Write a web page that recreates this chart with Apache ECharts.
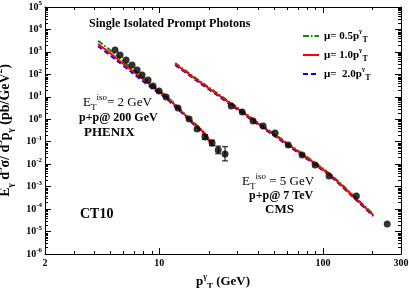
<!DOCTYPE html>
<html><head><meta charset="utf-8">
<script src="https://cdn.jsdelivr.net/npm/echarts@6/dist/echarts.min.js"></script>
<style>html,body{margin:0;padding:0;background:#fff}#c{width:409px;height:288px}</style>
</head><body><div id="c"></div>
<script>
// ---- data ----
const phenixPt  = [5.36, 5.75, 6.26, 6.81, 7.31, 7.84, 8.53, 9.15, 9.96, 11.0, 13.0, 15.2, 17.0, 19.0, 21.0, 22.9, 25.2];
const phenixVal = [1216, 728, 436, 261, 156, 93.5, 56, 30.3, 18.1, 9.8, 3.17, 1.03, 0.368, 0.162, 0.0875, 0.0427, 0.0283];
const phenixLo  = [null, null, null, null, null, null, null, null, null, null, null, null, null, 0.13, 0.066, 0.029, 0.014];
const phenixHi  = [null, null, null, null, null, null, null, null, null, null, null, null, null, 0.205, 0.118, 0.064, 0.06];

const cmsPt  = [27.5, 32.1, 37.4, 43.1, 51.0, 61.3, 74.6, 89.6, 109, 160, 247];
const cmsVal = [3.89, 2.10, 0.836, 0.50, 0.244, 0.0713, 0.0256, 0.00917, 0.00296, 3.81e-4, 2.16e-5];

const phenixThPt = [4.22, 5.36, 6.62, 9.15, 11.0, 13.0, 15.4, 18.5, 20.7];
const phenixMu05 = [3150, 790, 216, 32.2, 11.0, 3.49, 1.02, 0.29, 0.092];
const phenixMu10 = [2249, 593, 173, 27.3, 9.8, 3.17, 0.927, 0.27, 0.0875];
const phenixMu20 = [1800, 480, 140, 22.5, 8.4, 2.8, 0.84, 0.245, 0.083];

const cmsThPt = [12.5, 17.7, 27.5, 41.3, 72.5, 110.7, 162, 203];
const cmsMu05 = [318, 50.2, 5.26, 0.61, 0.0345, 0.00362, 2.78e-4, 5.97e-5];
const cmsMu10 = [289, 45.6, 4.78, 0.555, 0.0314, 0.00329, 2.53e-4, 5.43e-5];
const cmsMu20 = [260, 41.0, 4.30, 0.50, 0.0283, 0.00296, 2.28e-4, 4.89e-5];

const xTickLabels = [2, 10, 100, 300];
const xMinorTicks = [3, 4, 5, 6, 7, 8, 9, 20, 30, 40, 50, 60, 70, 80, 90, 200];
const yDecades = [-6, -5, -4, -3, -2, -1, 0, 1, 2, 3, 4];
const legendMu = ['0.5', '1.0', ' 2.0'];
const seriesNames = ['mu05', 'mu10', 'mu20'];

// ---- build ----
const SERIF = '"Liberation Serif","DejaVu Serif",serif';
const X_MIN = 2, X_MAX = 300, Y_MIN = 1e-6, Y_MAX = 1e5;
const zip = (a, b) => a.map((v, i) => [v, b[i]]);

const yMinorTicks = [];
yDecades.forEach(d => { for (let k = 2; k <= 9; k++) yMinorTicks.push(k * Math.pow(10, d)); });

const errData = [];
phenixPt.forEach((p, i) => { if (phenixLo[i] != null) errData.push([p, phenixLo[i], phenixHi[i]]); });

const colors = { mu05: '#118811', mu10: '#ff0000', mu20: '#0000ff' };
const lineTypes = { mu05: [6, 2, 1.5, 2], mu10: 'solid', mu20: [5, 3] };

function curve(name, pts, vals, z) {
  return {
    name: name, type: 'line', data: zip(pts, vals), symbol: 'none', smooth: 0.3,
    xAxisIndex: 0, yAxisIndex: 0, z: z, silent: true,
    lineStyle: { color: colors[name], width: 2, type: lineTypes[name] },
    itemStyle: { color: colors[name] }
  };
}

const sup = (s) => ({ fontFamily: SERIF, fontSize: s, verticalAlign: 'top', fontWeight: 'bold', color: '#000' });
const sub = (s) => ({ fontFamily: SERIF, fontSize: s, verticalAlign: 'bottom', fontWeight: 'bold', color: '#000' });

const chart = echarts.init(document.getElementById('c'), null, { renderer: 'canvas' });

const axisLineStyle = { show: true, lineStyle: { color: '#000', width: 1 } };
const option = {
  animation: false,
  backgroundColor: '#fff',
  grid: { left: 45, right: 8, top: 7, bottom: 34, containLabel: false, outerBoundsMode: 'none' },
  xAxis: [{
    type: 'log', logBase: 10, min: X_MIN, max: X_MAX, splitNumber: 2,
    axisLine: axisLineStyle, splitLine: { show: false },
    axisTick: { show: true, inside: true, length: 6, lineStyle: { color: '#000' } },
    axisLabel: {
      margin: 4, color: '#000', fontFamily: SERIF, fontWeight: 'bold', fontSize: 10,
      formatter: v => { const r = Math.round(v); return xTickLabels.includes(r) ? String(r) : ''; }
    },
    name: '{n|p}{sup|γ}{sub|T}{n| (GeV)}', nameLocation: 'middle', nameGap: 12,
    nameTextStyle: {
      rich: {
        n: { fontFamily: SERIF, fontSize: 13, fontWeight: 'bold', color: '#000', lineHeight: 18 },
        sup: sup(8),
        sub: sub(9)
      }
    }
  }, {
    type: 'log', logBase: 10, min: X_MIN, max: X_MAX, splitNumber: 2, position: 'top',
    axisLine: axisLineStyle, splitLine: { show: false },
    axisTick: { show: true, inside: true, length: 6, lineStyle: { color: '#000' } },
    axisLabel: { show: false }
  }],
  yAxis: [{
    type: 'log', logBase: 10, min: Y_MIN, max: Y_MAX, splitNumber: 11, interval: 1,
    axisLine: axisLineStyle, splitLine: { show: false },
    axisTick: { show: true, inside: true, length: 6, lineStyle: { color: '#000' } },
    axisLabel: {
      margin: 3, color: '#000',
      formatter: v => { const e = Math.round(Math.log10(v)); return '{b|10}{s|' + e + '}'; },
      rich: {
        b: { fontFamily: SERIF, fontSize: 10, fontWeight: 'bold', color: '#000', lineHeight: 14 },
        s: { fontFamily: SERIF, fontSize: 7, fontWeight: 'bold', color: '#000', verticalAlign: 'top', lineHeight: 14 }
      }
    },
    name: '{n|E}{sub|γ}{n| d}{sup|3}{n|σ/ d}{sup|3}{n|p}{sub|γ}{n| (pb/GeV}{sup|2}{n|)}',
    nameLocation: 'middle', nameRotate: 90, nameGap: 21,
    nameTextStyle: {
      rich: {
        n: { fontFamily: SERIF, fontSize: 14, fontWeight: 'bold', color: '#000', lineHeight: 20 },
        sup: sup(9),
        sub: sub(9)
      }
    }
  }, {
    type: 'log', logBase: 10, min: Y_MIN, max: Y_MAX, splitNumber: 11, interval: 1, position: 'right',
    axisLine: axisLineStyle, splitLine: { show: false },
    axisTick: { show: true, inside: true, length: 6, lineStyle: { color: '#000' } },
    axisLabel: { show: false }
  }],
  legend: {
    orient: 'vertical', left: 297, top: 23, itemWidth: 16, itemHeight: 8, itemGap: 3,
    data: seriesNames, selectedMode: false,
    itemStyle: { opacity: 0, borderWidth: 0 },
    formatter: name => '{t|μ= ' + legendMu[seriesNames.indexOf(name)] + 'p}{sup|γ}{sub|T}',
    textStyle: {
      rich: {
        t: { fontFamily: SERIF, fontSize: 11, fontWeight: 'bold', color: '#000', lineHeight: 16 },
        sup: { fontFamily: SERIF, fontSize: 7, fontWeight: 'bold', color: '#000', verticalAlign: 'top', lineHeight: 16 },
        sub: { fontFamily: SERIF, fontSize: 8, fontWeight: 'bold', color: '#000', verticalAlign: 'bottom', lineHeight: 16 }
      }
    }
  },
  graphic: [
    { type: 'text', x: 89, y: 24, silent: true,
      style: { text: 'Single Isolated Prompt Photons', font: 'bold 12px ' + SERIF, fill: '#000', verticalAlign: 'middle' } },
    { type: 'text', x: 83, y: 103, silent: true,
      style: { text: '{n|E}{s|T}{u|iso}{n|= 2 GeV}', verticalAlign: 'middle',
        rich: { n: { font: '13px ' + SERIF, fill: '#000', lineHeight: 19 },
                s: { font: '9px ' + SERIF, fill: '#000', verticalAlign: 'bottom', lineHeight: 19 },
                u: { font: '9px ' + SERIF, fill: '#000', verticalAlign: 'top', lineHeight: 19 } } } },
    { type: 'text', x: 79, y: 118, silent: true,
      style: { text: 'p+p@ 200 GeV', font: 'bold 12px ' + SERIF, fill: '#000', verticalAlign: 'middle' } },
    { type: 'text', x: 84, y: 133, silent: true,
      style: { text: 'PHENIX', font: 'bold 13px ' + SERIF, fill: '#000', verticalAlign: 'middle' } },
    { type: 'text', x: 242, y: 182, silent: true,
      style: { text: '{n|E}{s|T}{u|iso}{n| = 5 GeV}', verticalAlign: 'middle',
        rich: { n: { font: '13px ' + SERIF, fill: '#000', lineHeight: 19 },
                s: { font: '9px ' + SERIF, fill: '#000', verticalAlign: 'bottom', lineHeight: 19 },
                u: { font: '9px ' + SERIF, fill: '#000', verticalAlign: 'top', lineHeight: 19 } } } },
    { type: 'text', x: 249, y: 196, silent: true,
      style: { text: 'p+p@ 7 TeV', font: 'bold 12px ' + SERIF, fill: '#000', verticalAlign: 'middle' } },
    { type: 'text', x: 265, y: 210, silent: true,
      style: { text: 'CMS', font: 'bold 13px ' + SERIF, fill: '#000', verticalAlign: 'middle' } },
    { type: 'text', x: 80, y: 214, silent: true,
      style: { text: 'CT10', font: 'bold 14px ' + SERIF, fill: '#000', verticalAlign: 'middle' } }
  ],
  series: [
    curve('mu20', phenixThPt, phenixMu20, 3),
    curve('mu05', phenixThPt, phenixMu05, 4),
    curve('mu10', phenixThPt, phenixMu10, 5),
    curve('mu20', cmsThPt, cmsMu20, 3),
    curve('mu05', cmsThPt, cmsMu05, 4),
    curve('mu10', cmsThPt, cmsMu10, 5),
    { name: 'PHENIX', type: 'scatter', data: zip(phenixPt, phenixVal), symbol: 'circle', symbolSize: 7,
      itemStyle: { color: '#000' }, z: 6, silent: true },
    { name: 'CMS', type: 'scatter', data: zip(cmsPt, cmsVal), symbol: 'circle', symbolSize: 7,
      itemStyle: { color: '#000' }, z: 6, silent: true },
    { name: 'err', type: 'custom', data: errData, z: 6, silent: true, clip: false,
      renderItem: (params, api) => {
        const a = api.coord([api.value(0), api.value(1)]);
        const b = api.coord([api.value(0), api.value(2)]);
        const st = { stroke: '#000', lineWidth: 1 };
        return { type: 'group', children: [
          { type: 'line', shape: { x1: a[0], y1: a[1], x2: b[0], y2: b[1] }, style: st },
          { type: 'line', shape: { x1: a[0] - 3, y1: a[1], x2: a[0] + 3, y2: a[1] }, style: st },
          { type: 'line', shape: { x1: b[0] - 3, y1: b[1], x2: b[0] + 3, y2: b[1] }, style: st }
        ] };
      } },
    { name: 'xminor', type: 'custom', data: xMinorTicks.map(v => [v, Y_MIN]), z: 10, silent: true, clip: false,
      renderItem: (params, api) => {
        const cs = params.coordSys;
        const p = api.coord([api.value(0), api.value(1)]);
        const st = { stroke: '#000', lineWidth: 1 };
        const x = Math.round(p[0]) + 0.5;
        return { type: 'group', children: [
          { type: 'line', shape: { x1: x, y1: cs.y + cs.height, x2: x, y2: cs.y + cs.height - 3 }, style: st },
          { type: 'line', shape: { x1: x, y1: cs.y, x2: x, y2: cs.y + 3 }, style: st }
        ] };
      } },
    { name: 'yminor', type: 'custom', data: yMinorTicks.map(v => [X_MIN, v]), z: 10, silent: true, clip: false,
      renderItem: (params, api) => {
        const cs = params.coordSys;
        const p = api.coord([api.value(0), api.value(1)]);
        const st = { stroke: '#000', lineWidth: 1 };
        const y = Math.round(p[1]) + 0.5;
        return { type: 'group', children: [
          { type: 'line', shape: { x1: cs.x, y1: y, x2: cs.x + 3, y2: y }, style: st },
          { type: 'line', shape: { x1: cs.x + cs.width, y1: y, x2: cs.x + cs.width - 3, y2: y }, style: st }
        ] };
      } }
  ]
};
chart.setOption(option);
</script>
</body></html>
